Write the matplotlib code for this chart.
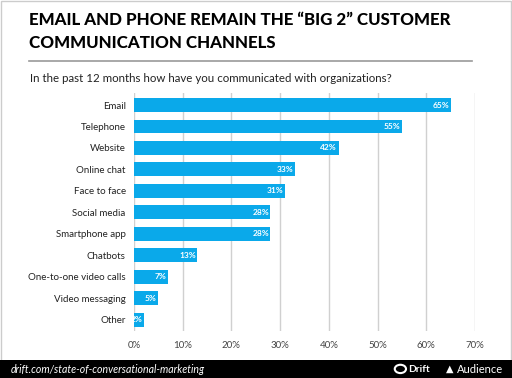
import matplotlib.pyplot as plt
from matplotlib.patches import Rectangle, Circle

channels = ["Email", "Telephone", "Website", "Online chat", "Face to face", "Social media",
            "Smartphone app", "Chatbots", "One-to-one video calls", "Video messaging", "Other"]
shares = [65, 55, 42, 33, 31, 28, 28, 13, 7, 5, 2]
xticks = [0, 10, 20, 30, 40, 50, 60, 70]

BLUE = "#0aa9ea"

plt.rcParams["font.family"] = ["Lato", "DejaVu Sans"]

fig = plt.figure(figsize=(5.12, 3.78), dpi=100)
fig.patches.append(Rectangle((0.002, 0.002), 0.996, 0.996, transform=fig.transFigure,
                             fill=False, edgecolor="#cccccc", linewidth=1))

ax = fig.add_axes([0.2617, 0.1243, 0.666, 0.6297])
y = list(range(len(channels)))
ax.barh(y, shares, height=0.65, color=BLUE, zorder=3)
ax.set_ylim(10.52, -0.56)
ax.set_xlim(0, 70)
ax.set_xticks(xticks)
ax.set_xticklabels([f"{t}%" for t in xticks], fontsize=7, color="#444444")
ax.set_yticks(y)
ax.set_yticklabels(channels, fontsize=7, color="#222222")
ax.tick_params(axis="both", length=0, pad=7)
ax.tick_params(axis="y", pad=6)
ax.grid(axis="x", color="#d0d0d0", linewidth=1, zorder=0)
for s in ax.spines.values():
    s.set_visible(False)

for yi, v in zip(y, shares):
    ax.text(v - 0.3, yi, f"{v}%", ha="right", va="center", color="white",
            fontsize=6, fontweight="bold", zorder=4, clip_on=False)

fig.text(0.057, 0.947, "EMAIL AND PHONE REMAIN THE \u201cBIG 2\u201d CUSTOMER",
         fontsize=12.2, fontweight="black", color="black", va="center")
fig.text(0.057, 0.886, "COMMUNICATION CHANNELS",
         fontsize=12.2, fontweight="black", color="black", va="center")
fig.lines.append(plt.Line2D([0.057, 0.922], [0.839, 0.839], transform=fig.transFigure,
                            color="#999999", linewidth=1.2))
fig.text(0.059, 0.793, "In the past 12 months how have you communicated with organizations?",
         fontsize=8.3, color="#222222", va="center")

# footer band
fig.patches.append(Rectangle((0, 0), 1, 0.048, transform=fig.transFigure,
                             facecolor="black", edgecolor="none"))
fig.text(0.02, 0.022, "drift.com/state-of-conversational-marketing", fontsize=7.6,
         style="italic", color="white", va="center")
fig.patches.append(Circle((0.782, 0.024), 0.011, transform=fig.transFigure,
                          facecolor="none", edgecolor="white", linewidth=1.5))
fig.text(0.797, 0.022, "Drift", fontsize=7.3, fontweight="bold", color="white", va="center")
fig.text(0.885, 0.022, "\u25b2", fontsize=7, color="white", va="center", ha="right")
fig.text(0.893, 0.022, "Audience", fontsize=8, color="white", va="center")

fig.savefig("out.png", dpi=100)
